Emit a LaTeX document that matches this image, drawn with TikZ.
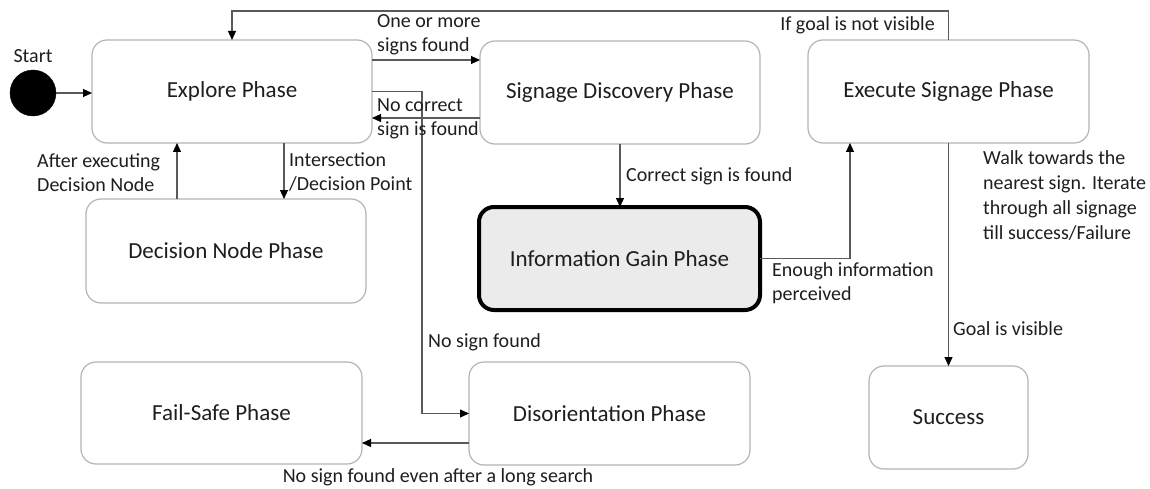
\documentclass[tikz,border=0pt]{standalone}
\usepackage{fontspec}
\setmainfont{Carlito}
\usetikzlibrary{arrows.meta}

\definecolor{boxline}{HTML}{B4B4B4}
\definecolor{wireline}{HTML}{5A5A5A}
\definecolor{inktext}{HTML}{1E1E1E}
\definecolor{gainfill}{HTML}{EBEBEB}

\tikzset{
  phase/.style={draw=boxline, line width=1.2pt, rounded corners=15pt,
    minimum width=280pt, minimum height=103pt, text=inktext,
    font=\fontsize{23}{28}\selectfont, inner sep=0pt, outer sep=0pt},
  keyphase/.style={phase, draw=black, line width=4pt, fill=gainfill,
    minimum width=281pt, minimum height=103pt},
  startdot/.style={circle, fill=black, draw=black, minimum size=46pt, inner sep=0pt},
  wire/.style={draw=wireline, line width=1.1pt,
    -{Triangle[length=9pt,width=8pt,fill=black,color=black]}},
  tag/.style={text=inktext, font=\fontsize{20}{24}\selectfont, inner sep=0pt,
    align=left},
}

\begin{document}
\begin{tikzpicture}[x=1pt, y=-1pt]
\useasboundingbox (0,0) rectangle (1150,489);

% states
\node[startdot] (start) at (33,93) {};
\node[phase] (explore)   at (232,91.5)   {Explore Phase};
\node[phase] (discovery) at (620,92.5)   {Signage Discovery Phase};
\node[phase, minimum width=281pt] (execute) at (948.5,91.5) {Execute Signage Phase};
\node[phase, minimum height=104pt] (decision) at (226,251) {Decision Node Phase};
\node[keyphase] (info) at (619.5,258.5) {Information Gain Phase};
\node[phase, minimum width=281pt, minimum height=102pt] (failsafe) at (221.5,413) {Fail-Safe Phase};
\node[phase, minimum width=281pt] (disorient) at (609.5,413.5) {Disorientation Phase};
\node[phase, minimum width=159pt] (success) at (948.5,417.5) {Success};

% transitions
\draw[wire] (start.east) -- (start.east -| explore.west);
\draw[wire] (execute.north) -- ++(0,-29) -| (explore.north);
\draw[wire] (execute.south) -- (success.north);
\draw[wire] ([yshift=31.5pt]explore.east) -- ([yshift=31.5pt]explore.east -| discovery.west);
\draw[wire] ([yshift=-25.5pt]discovery.west) -- ([yshift=-25.5pt]discovery.west -| explore.east);
\draw[wire] (explore.east) -- ++(50,0) |- (disorient.west);
\draw[wire] ([xshift=52pt]explore.south) -- ([xshift=52pt]explore.south |- decision.north);
\draw[wire] ([xshift=-49pt]decision.north) -- ([xshift=-49pt]decision.north |- explore.south);
\draw[wire] (discovery.south) -- (discovery.south |- info.north);
\draw[wire] (info.east) -| ([xshift=-98.5pt]execute.south);
\draw[wire] ([yshift=-29.5pt]disorient.west) -- ([yshift=-29.5pt]disorient.west -| failsafe.east);

% transition labels
\node[tag] (lstart) at (33,56) {Start};
\node[tag, anchor=west] (lfound) at (377,35) {One or more\\signs found};
\node[tag, anchor=west] (lnocorrect) at (377,119) {No correct\\sign is found};
\node[tag, anchor=east] (lnotvis) at (935,25) {If goal is not visible};
\node[tag, anchor=west] (linter) at (289,172.5) {Intersection\\/Decision Point};
\node[tag, anchor=west] (lafter) at (37,173) {After executing\\Decision Node};
\node[tag, anchor=west] (lcorrect) at (626,176) {Correct sign is found};
\node[tag, anchor=west, font=\fontsize{20}{25}\selectfont] (lwalk) at (983,195) {Walk towards the\\nearest sign. Iterate\\through all signage\\till success/Failure};
\node[tag, anchor=west] (lenough) at (772,283.5) {Enough information\\perceived};
\node[tag, anchor=west] (lvisible) at (953,329) {Goal is visible};
\node[tag, anchor=west] (lnosign) at (428,342) {No sign found};
\node[tag] (llong) at (438,477) {No sign found even after a long search};
\end{tikzpicture}
\end{document}
